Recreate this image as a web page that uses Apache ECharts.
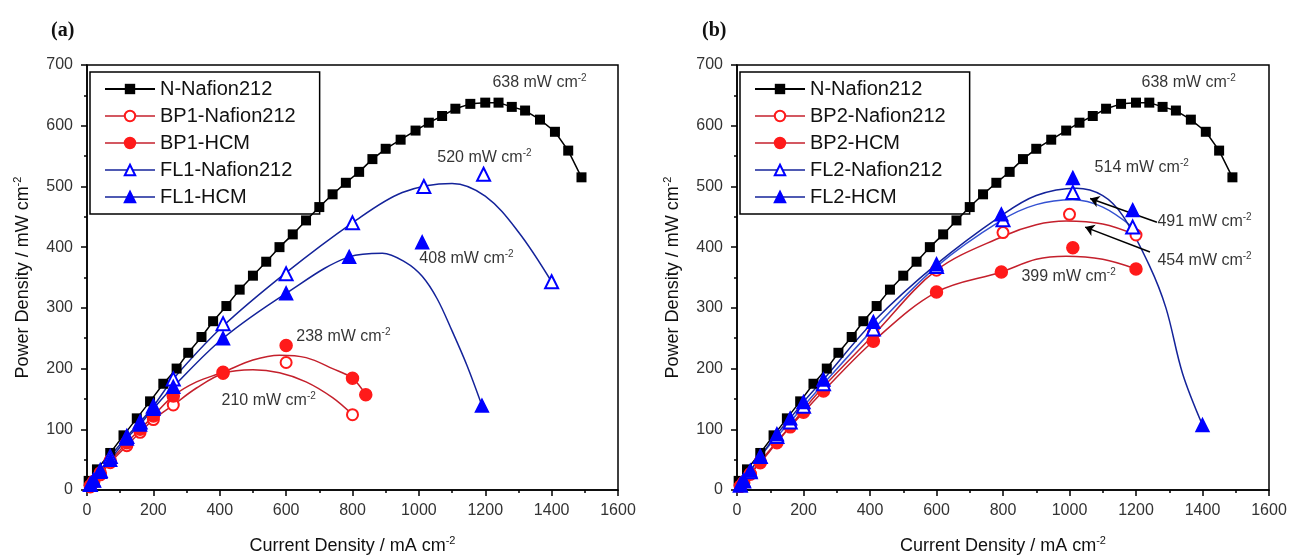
<!DOCTYPE html>
<html>
<head>
<meta charset="utf-8">
<script src="https://cdn.jsdelivr.net/npm/echarts@6/dist/echarts.min.js"></script>
<style>html,body{margin:0;background:#fff}#chart{width:1290px;height:560px}</style>
</head>
<body>
<div id="chart"></div>
<script>
// reference membrane, same in both panels  [current, power]
var nNafion = [[5,15],[30,34],[70,61],[110,90],[150,118],[190,146],[230,175],[270,200],[305,226],[345,252],
  [380,278],[420,303],[460,330],[500,353],[540,376],[580,400],[620,421],[660,444],[700,466],[740,487],
  [780,506],[820,524],[860,545],[900,562],[945,577],[990,592],[1030,605],[1070,616],[1110,628],[1155,636],
  [1200,638],[1240,638],[1280,631],[1320,625],[1365,610],[1410,590],[1450,559],[1490,515]];

// panel (a) measured points
var bp1Nafion = [[10,5],[20,12],[40,25],[70,45],[120,73],[160,95],[200,116],[260,140],[410,192],[600,210],[800,124]];
var bp1Hcm = [[10,7],[20,14],[40,28],[70,48],[120,78],[160,100],[200,122],[260,155],[410,194],[600,238],[800,184],[840,157]];
var fl1Nafion = [[10,9],[20,16],[40,32],[70,55],[120,88],[160,112],[200,138],[260,183],[410,274],[600,356],[800,440],[1015,500],[1195,520],[1400,343]];
var fl1Hcm = [[10,9],[20,16],[40,30],[70,50],[120,85],[160,108],[200,134],[260,170],[410,250],[600,324],[790,384],[1010,408],[1190,139]];
// panel (a) fitted curves
var bp1NafionFit = [[330,168],[410,192],[500,198],[580,193],[660,178],[740,152],[800,124]];
var bp1HcmFit = [[330,178],[410,194],[500,214],[580,222],[660,218],[740,200],[800,184],[840,157]];
var fl1NafionFit = [[410,270],[600,358],[800,440],[950,490],[1100,505],[1200,484],[1300,425],[1400,343]];
var fl1HcmFit = [[410,250],[600,324],[790,384],[890,390],[960,375],[1010,352],[1055,315],[1100,262],[1145,205],[1190,139]];

// panel (b) measured points
var bp2Nafion = [[10,6],[20,13],[40,27],[70,47],[120,80],[160,105],[200,132],[260,170],[410,258],[600,362],[800,424],[1000,454],[1200,420]];
var bp2Hcm = [[10,6],[20,12],[40,26],[70,45],[120,78],[160,104],[200,128],[260,163],[410,245],[600,326],[795,359],[1010,399],[1200,364]];
var fl2Nafion = [[10,8],[20,15],[40,30],[70,55],[120,88],[160,112],[200,138],[260,175],[410,265],[600,368],[800,445],[1010,490],[1190,433]];
var fl2Hcm = [[10,9],[20,16],[40,32],[70,55],[120,92],[160,118],[200,145],[260,182],[410,277],[600,372],[795,454],[1010,514],[1190,461],[1400,107]];
// panel (b) fitted curves
var bp2NafionFit = [[410,255],[600,362],[800,418],[900,437],[990,443],[1100,438],[1200,420]];
var bp2HcmFit = [[410,245],[600,326],[795,359],[900,380],[990,385],[1100,380],[1200,364]];
var fl2NafionFit = [[410,265],[600,368],[795,444],[900,470],[1010,478],[1100,466],[1190,433]];
var fl2HcmFit = [[410,277],[600,372],[795,452],[900,485],[1020,497],[1100,485],[1160,452],[1240,370],[1290,300],[1340,192],[1400,107]];

// peak labels [x, y, value]
var notesA = [[1223,670,'638'],[1057,546,'520'],[1003,380,'408'],[632,252,'238'],[407,146,'210']];
var notesB = [[1218,670,'638'],[1077,530,'514'],[1266,441,'491'],[1266,377,'454'],[857,351,'399']];
var arrowsB = [[[1263,441],[1062,480]],[[1242,392],[1047,433]]];

var FONT = 'Liberation Sans, Arial, sans-serif';
var RED = '#ff1a1a', RED_LINE = '#c4202c', BLUE = '#0000ff', NAVY = '#14239a', LBLUE = '#3552d2';

var chart = echarts.init(document.getElementById('chart'));

function lowPart(pts) {
  return pts.filter(function (p) { return p[0] <= 260; });
}
function markers(name, data, symbol, color, gi, size) {
  return {
    type: 'line', name: name, xAxisIndex: gi, yAxisIndex: gi, data: data,
    symbol: symbol, symbolSize: size || 11, showSymbol: true,
    lineStyle: {width: 0}, itemStyle: {color: color, borderColor: color, borderWidth: 1.5},
    z: 5, animation: false
  };
}
function curve(name, data, color, gi) {
  return {
    type: 'line', name: name, xAxisIndex: gi, yAxisIndex: gi, data: data,
    smooth: 0.35, symbol: 'none', lineStyle: {color: color, width: 1.5},
    z: 3, silent: true, animation: false
  };
}
function notes(name, arr, gi, arrows) {
  var s = {
    type: 'scatter', name: name, xAxisIndex: gi, yAxisIndex: gi, symbolSize: 1,
    itemStyle: {color: 'rgba(0,0,0,0)'}, silent: true, animation: false, z: 6,
    data: arr.map(function (n) { return {value: [n[0], n[1]], name: n[2]}; }),
    label: {
      show: true, position: [0, 0], align: 'left', verticalAlign: 'middle', color: '#000',
      formatter: function (p) { return '{t|' + p.name + ' mW cm}{s|-2}'; },
      rich: {
        t: {fontSize: 16, fontFamily: FONT, color: '#000', lineHeight: 19},
        s: {fontSize: 10, fontFamily: FONT, color: '#000', verticalAlign: 'top', lineHeight: 12}
      }
    },
    labelLayout: {hideOverlap: false}
  };
  if (arrows) {
    s.markLine = {
      silent: true, symbol: ['none', 'arrow'], symbolSize: 9, animation: false,
      label: {show: false},
      lineStyle: {color: '#000', width: 1.5, type: 'solid'},
      data: arrows.map(function (a) { return [{coord: a[0]}, {coord: a[1]}]; })
    };
  }
  return s;
}
function xAxis(gi) {
  return {
    type: 'value', gridIndex: gi, min: 0, max: 1600, interval: 200,
    name: '{t|Current Density / mA cm}{s|-2}', nameLocation: 'middle', nameGap: 45,
    nameTextStyle: {rich: {
      t: {fontSize: 18, fontFamily: FONT, color: '#111', lineHeight: 22},
      s: {fontSize: 11, fontFamily: FONT, color: '#111', verticalAlign: 'top', lineHeight: 13}
    }},
    axisLine: {lineStyle: {color: '#000', width: 1.5}},
    axisTick: {length: 6, lineStyle: {color: '#000', width: 1.5}},
    minorTick: {show: true, splitNumber: 2, length: 3, lineStyle: {color: '#000', width: 1.5}},
    axisLabel: {fontSize: 16, fontFamily: FONT, color: '#333', margin: 13, formatter: function (v) { return String(v); }},
    splitLine: {show: false}
  };
}
function yAxis(gi) {
  return {
    type: 'value', gridIndex: gi, min: 0, max: 700, interval: 100,
    name: '{t|Power Density / mW cm}{s|-2}', nameLocation: 'middle', nameGap: 53,
    nameTextStyle: {rich: {
      t: {fontSize: 18, fontFamily: FONT, color: '#111', lineHeight: 22},
      s: {fontSize: 11, fontFamily: FONT, color: '#111', verticalAlign: 'top', lineHeight: 13}
    }},
    axisLine: {lineStyle: {color: '#000', width: 1.5}},
    axisTick: {length: 6, lineStyle: {color: '#000', width: 1.5}},
    minorTick: {show: true, splitNumber: 2, length: 3, lineStyle: {color: '#000', width: 1.5}},
    axisLabel: {fontSize: 16, fontFamily: FONT, color: '#333', margin: 14},
    splitLine: {show: false}
  };
}
function legend(left, names) {
  return {
    orient: 'vertical', left: left, top: 72, padding: [7, 24, 7, 14],
    borderColor: '#000', borderWidth: 1.5, backgroundColor: '#fff',
    itemWidth: 50, itemHeight: 13, itemGap: 7,
    textStyle: {fontSize: 20, fontFamily: FONT, color: '#111'},
    data: names.map(function (n) {
      return n[1] ? {name: n[0], lineStyle: {width: 1.5, color: n[1], opacity: 1}} : {name: n[0]};
    })
  };
}

var option = {
  backgroundColor: '#fff',
  title: [
    {text: '(a)', left: 46, top: 16, textStyle: {fontFamily: 'Liberation Serif, serif', fontWeight: 'bold', fontSize: 20, color: '#111'}},
    {text: '(b)', left: 697, top: 16, textStyle: {fontFamily: 'Liberation Serif, serif', fontWeight: 'bold', fontSize: 20, color: '#111'}}
  ],
  grid: [
    {left: 87, top: 65, width: 531, height: 427, show: true, borderColor: '#000', borderWidth: 1.5, backgroundColor: 'transparent'},
    {left: 737, top: 65, width: 532, height: 427, show: true, borderColor: '#000', borderWidth: 1.5, backgroundColor: 'transparent'}
  ],
  xAxis: [xAxis(0), xAxis(1)],
  yAxis: [yAxis(0), yAxis(1)],
  legend: [
    legend(90, [['N-Nafion212'], ['BP1-Nafion212', RED_LINE], ['BP1-HCM', RED_LINE], ['FL1-Nafion212', NAVY], ['FL1-HCM', NAVY]]),
    legend(740, [['N-Nafion212'], ['BP2-Nafion212', RED_LINE], ['BP2-HCM', RED_LINE], ['FL2-Nafion212', NAVY], ['FL2-HCM', NAVY]])
  ],
  series: [
    // panel (a)
    curve('a-bp1n', lowPart(bp1Nafion).concat(bp1NafionFit), RED_LINE, 0),
    curve('a-bp1h', lowPart(bp1Hcm).concat(bp1HcmFit), RED_LINE, 0),
    curve('a-fl1n', lowPart(fl1Nafion).concat(fl1NafionFit), NAVY, 0),
    curve('a-fl1h', lowPart(fl1Hcm).concat(fl1HcmFit), NAVY, 0),
    {type: 'line', name: 'N-Nafion212', xAxisIndex: 0, yAxisIndex: 0, data: nNafion, symbol: 'rect', symbolSize: 10,
      lineStyle: {color: '#000', width: 1.5}, itemStyle: {color: '#000'}, z: 4, animation: false},
    markers('BP1-Nafion212', bp1Nafion, 'emptyCircle', RED, 0, 11),
    markers('BP1-HCM', bp1Hcm, 'circle', RED, 0, 12),
    markers('FL1-Nafion212', fl1Nafion, 'emptyTriangle', BLUE, 0, 13),
    markers('FL1-HCM', fl1Hcm, 'triangle', BLUE, 0, 13),
    notes('notesA', notesA, 0),
    // panel (b)
    curve('b-bp2n', lowPart(bp2Nafion).concat(bp2NafionFit), RED_LINE, 1),
    curve('b-bp2h', lowPart(bp2Hcm).concat(bp2HcmFit), RED_LINE, 1),
    curve('b-fl2n', lowPart(fl2Nafion).concat(fl2NafionFit), LBLUE, 1),
    curve('b-fl2h', lowPart(fl2Hcm).concat(fl2HcmFit), NAVY, 1),
    {type: 'line', name: 'N-Nafion212', xAxisIndex: 1, yAxisIndex: 1, data: nNafion, symbol: 'rect', symbolSize: 10,
      lineStyle: {color: '#000', width: 1.5}, itemStyle: {color: '#000'}, z: 4, animation: false},
    markers('BP2-Nafion212', bp2Nafion, 'emptyCircle', RED, 1, 11),
    markers('BP2-HCM', bp2Hcm, 'circle', RED, 1, 12),
    markers('FL2-Nafion212', fl2Nafion, 'emptyTriangle', BLUE, 1, 13),
    markers('FL2-HCM', fl2Hcm, 'triangle', BLUE, 1, 13),
    notes('notesB', notesB, 1, arrowsB)
  ]
};
chart.setOption(option);
</script>
</body>
</html>
